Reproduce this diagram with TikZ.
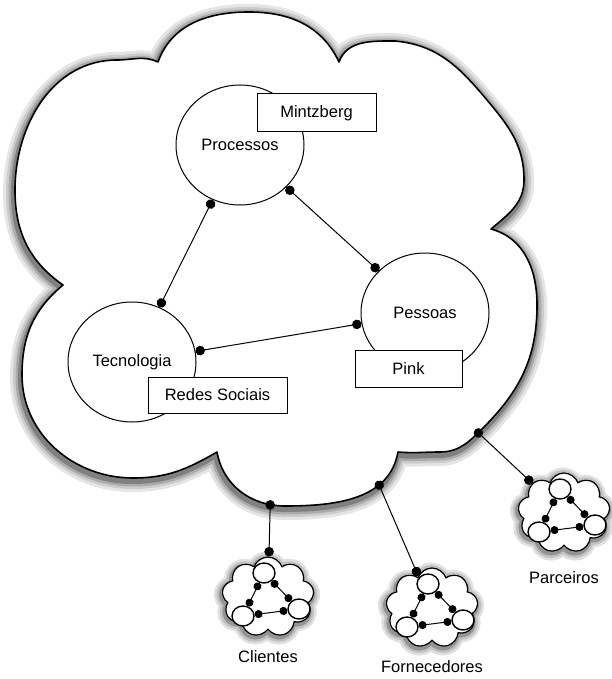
\documentclass[tikz,border=0pt]{standalone}
\usepackage{fontspec}
\setsansfont{Liberation Sans}
\usetikzlibrary{arrows.meta,shapes.geometric,shapes.symbols,positioning}

\begin{document}
\begin{tikzpicture}[x=1pt, y=1pt, font=\sffamily\fontsize{16.5}{20}\selectfont,
	main node/.style={ellipse, draw, line width=1pt, fill=white, minimum width=128pt, minimum height=120pt, inner sep=0pt},
	ref box/.style={rectangle, draw, line width=1pt, fill=white, inner sep=0pt},
	link/.style={{Circle[length=9.5pt]}-{Circle[length=9.5pt]}, line width=1pt},
	port link/.style={{Circle[length=9.5pt]}-{Circle[length=9.5pt]}, shorten <=-4.5pt, line width=1pt},
	big shade/.style={line join=round,
		preaction={draw=black!10, line width=22pt, transform canvas={shift={(-1pt,-3pt)}}},
		preaction={draw=black!20, line width=16pt, transform canvas={shift={(-1pt,-3pt)}}},
		preaction={draw=black!33, line width=11pt, transform canvas={shift={(-1pt,-3pt)}}},
		preaction={draw=black!50, line width=6pt, transform canvas={shift={(-1pt,-3pt)}}}},
	mini shade/.style={
		preaction={draw=black!12, line width=15pt, transform canvas={shift={(-1pt,-2pt)}}},
		preaction={draw=black!24, line width=10pt, transform canvas={shift={(-1pt,-2pt)}}},
		preaction={draw=black!42, line width=5pt, transform canvas={shift={(-1pt,-2pt)}}}},
	mini cloud/.style={cloud, cloud puffs=9, cloud puff arc=140, aspect=1.15, draw, line width=1.2pt, fill=white, minimum width=92pt, minimum height=80pt, inner sep=0pt, mini shade},
	mini node/.style={ellipse, draw, line width=1.4pt, fill=white, minimum width=22pt, minimum height=20pt, inner sep=0pt},
	mini link/.style={{Circle[length=8pt]}-{Circle[length=8pt]}, line width=1pt}]
	\useasboundingbox (0,0) rectangle (611,-679);
	
	%big cloud, with shadow
	\draw[line width=1.6pt, fill=white, big shade]
		(158,-62) to[out=70,in=180] (249,-12) to[out=0,in=115] (339,-62)
		to[out=70,in=180] (395,-41) to[out=-5,in=130] (487,-100) to[out=-50,in=90] (524,-180) to[out=-90,in=40] (491,-229)
		to[out=-15,in=90] (537,-305) to[out=-90,in=45] (483,-428) to[out=-135,in=0] coordinate[pos=0.12] (parcport) (440,-452) to[out=180,in=-5] (398,-452)
		to[out=-100,in=0] coordinate[pos=0.3] (fornport) (285,-506) to[out=180,in=-80] coordinate[pos=0.15] (cliport) (217,-452)
		to[out=-150,in=0] (133,-478) to[out=180,in=-90] (22,-375) to[out=90,in=-140] (63,-285)
		to[out=145,in=-90] (15,-190) to[out=90,in=180] (117,-60) to[out=0,in=155] (158,-62) -- cycle;
	
	%the three circles
	\node[main node] (proc) at (240,-145) {Processos};
	\node[main node] (pess) at (425,-313) {Pessoas};
	\node[main node] (tec) at (132,-362) {Tecnologia};
	
	\draw[link] (proc) -- (tec);
	\draw[link] (proc) -- (pess);
	\draw[link] (tec) -- (pess);
	
	%references
	\node[ref box, minimum width=119pt, minimum height=38pt] (mintz) at (316.5,-113) {Mintzberg};
	\node[ref box, minimum width=107pt, minimum height=37pt] (pink) at (408.5,-368.5) {Pink};
	\node[ref box, minimum width=139pt, minimum height=36pt] (redes) at (217.5,-395) {Redes Sociais};
	
	%small clouds
	\foreach \n/\x/\y/\ly/\txt in {cli/268/-597/-657/Clientes, forn/432/-608/-667/Fornecedores, parc/564/-513/-578/Parceiros}{
		\node[mini cloud] (\n) at (\x,\y) {};
		\node[mini node] (\n-a) at (\x-4,\y+24) {};
		\node[mini node] (\n-b) at (\x-25,\y-19) {};
		\node[mini node] (\n-c) at (\x+31,\y-12) {};
		\draw[mini link] (\n-a) -- (\n-b);
		\draw[mini link] (\n-a) -- (\n-c);
		\draw[mini link] (\n-b) -- (\n-c);
		\node (\n-l) at (\x,\ly) {\txt};
	}
	
	%links to the small clouds
	\draw[port link] (cliport) -- (cli);
	\draw[port link] (fornport) -- (forn);
	\draw[port link] (parcport) -- (parc);
\end{tikzpicture}
\end{document}
